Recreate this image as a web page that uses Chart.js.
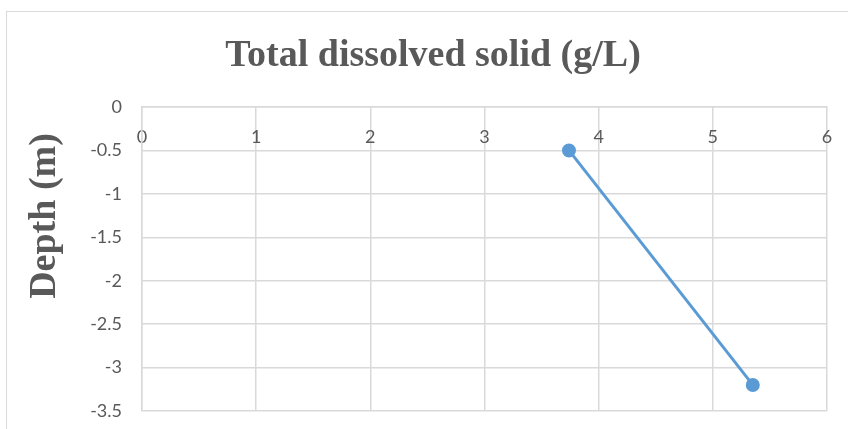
<!DOCTYPE html>
<html>
<head>
<meta charset="utf-8">
<script src="https://cdn.jsdelivr.net/npm/chart.js@4/dist/chart.umd.min.js"></script>
<style>
  html, body { margin: 0; padding: 0; background: #ffffff; }
  #wrap { width: 848px; height: 429px; position: relative; }
</style>
</head>
<body>
<div id="wrap"><canvas id="c"></canvas></div>
<script>
// Total dissolved solids measured at two depths
const tdsValues = [3.74, 5.35];      // g/L
const depthValues = [-0.5, -3.2];    // m
const xTickRange = [0, 6];
const yTickRange = [-3.5, 0];
const chartTitle = 'Total dissolved solid (g/L)';
const yAxisTitle = 'Depth (m)';

const points = tdsValues.map((v, i) => ({ x: v, y: depthValues[i] }));

const GRID = '#d9d9d9';
const TEXT = '#595959';
const SERIES = '#5b9bd5';

// white background plus the outer frame of the chart
const framePlugin = {
  id: 'frame',
  beforeDraw(chart) {
    const ctx = chart.ctx;
    ctx.save();
    ctx.fillStyle = '#ffffff';
    ctx.fillRect(0, 0, chart.width, chart.height);
    ctx.strokeStyle = GRID;
    ctx.lineWidth = 1;
    ctx.strokeRect(6.5, 11.5, chart.width + 10, chart.height + 10);
    ctx.restore();
  }
};

// rotated vertical axis title on the left
const yTitlePlugin = {
  id: 'yTitle',
  afterDraw(chart) {
    const ctx = chart.ctx;
    ctx.save();
    ctx.translate(45, 216);
    ctx.rotate(-Math.PI / 2);
    ctx.font = 'bold 38px "Liberation Serif"';
    ctx.fillStyle = TEXT;
    ctx.textAlign = 'center';
    ctx.textBaseline = 'middle';
    ctx.fillText(yAxisTitle, 0, 0);
    ctx.restore();
  }
};

const plainNumber = (v) => String(v);

new Chart(document.getElementById('c'), {
  type: 'scatter',
  data: {
    datasets: [{
      data: points,
      showLine: true,
      borderColor: SERIES,
      backgroundColor: SERIES,
      borderWidth: 3,
      pointRadius: 5.5,
      pointHoverRadius: 5.5
    }]
  },
  options: {
    responsive: true,
    maintainAspectRatio: false,
    animation: false,
    layout: { padding: { left: 39, right: 21, top: 0, bottom: 18 } },
    plugins: {
      legend: { display: false },
      tooltip: { enabled: false },
      title: {
        display: true,
        text: chartTitle,
        color: TEXT,
        font: { family: '"Liberation Serif"', size: 38, weight: 'bold', lineHeight: 1.2 },
        padding: { top: 33, bottom: 28.4 }
      }
    },
    scales: {
      x: {
        type: 'linear',
        position: { y: 0 },
        min: xTickRange[0],
        max: xTickRange[1],
        ticks: {
          stepSize: 1,
          color: TEXT,
          font: { family: 'Lato', size: 18 },
          padding: 19,
          callback: plainNumber
        },
        grid: { color: GRID, drawTicks: false, lineWidth: 1.5 },
        border: { color: GRID, width: 1.5 },
        afterFit(scale) {
          scale.height = 0;
          scale.paddingLeft = 0;
          scale.paddingRight = 0;
        }
      },
      y: {
        type: 'linear',
        position: 'left',
        min: yTickRange[0],
        max: yTickRange[1],
        ticks: {
          stepSize: 0.5,
          color: TEXT,
          font: { family: 'Lato', size: 18 },
          padding: 20,
          callback: plainNumber
        },
        grid: { color: GRID, drawTicks: false, lineWidth: 1.5 },
        border: { color: GRID, width: 1.5 },
        afterFit(scale) {
          scale.width = 103;
          scale.paddingTop = 0;
          scale.paddingBottom = 0;
        }
      }
    }
  },
  plugins: [framePlugin, yTitlePlugin]
});
</script>
</body>
</html>
